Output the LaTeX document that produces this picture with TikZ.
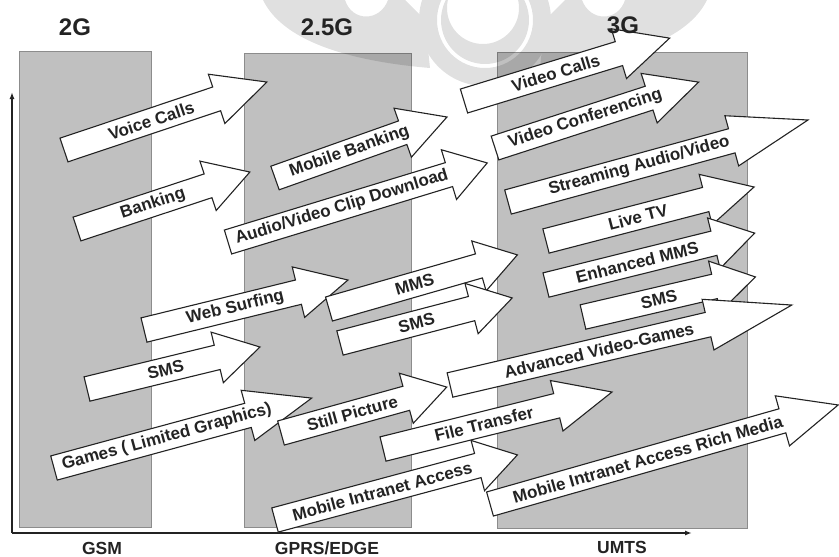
\documentclass[tikz,border=0pt]{standalone}
\usepackage{fontspec}
\setmainfont{Liberation Sans}
\usetikzlibrary{arrows.meta}
\definecolor{colfill}{RGB}{192,192,192}
\definecolor{colline}{RGB}{140,140,140}
\definecolor{ink}{RGB}{35,35,35}
\tikzset{
  column/.style={fill=colfill, draw=colline, line width=0.8pt},
  barrow/.style={fill=white, draw=ink, line width=1.1pt, line join=miter},
  atext/.style={font=\fontsize{17}{17}\selectfont\bfseries, text=ink, inner sep=0pt},
  gen/.style={font=\fontsize{24}{24}\selectfont\bfseries, text=ink, anchor=base, inner sep=0pt},
  tech/.style={font=\fontsize{17.5}{17.5}\selectfont\bfseries, text=ink, anchor=base, inner sep=0pt},
  axisline/.style={draw=ink, -{Latex[length=7pt,width=5pt]}},
  wm/.style={fill=black, draw=none}
}
\newcommand\blockarrow[8]{%
 \begin{scope}[shift={(#2,#3)}, rotate=#4]
  \draw[barrow] (0,-12.5) -- (#5-#6,-12.5) -- (#5-#6,-26) -- (#5,0) -- (#5-#6,26) -- (#5-#6,12.5) -- (0,12.5) -- cycle;
  \node[atext, rotate=#4] (#1) at (#7,0) {#8};
 \end{scope}}
\begin{document}
\begin{tikzpicture}[x=1pt,y=-1pt]
\useasboundingbox[fill=white] (0,0) rectangle (839,557);
% columns
\draw[column] (19,51) rectangle (151,527);
\draw[column] (244,53) rectangle (411,527);
\draw[column] (497,52) rectangle (747,528);
% watermark
\begin{scope}[transparency group, opacity=0.12]
\clip (0,0) rectangle (839,557);
\fill[wm] (263,0) .. controls (285,45) and (360,62) .. (430,68) -- (425,20) -- (405,0) -- (388,0) .. controls (380,22) and (352,22) .. (345,0) -- cycle;
\fill[wm] (707,0) .. controls (685,45) and (610,62) .. (540,68) -- (545,20) -- (565,0) -- (582,0) .. controls (590,22) and (618,22) .. (625,0) -- cycle;
\fill[wm, even odd rule] (485,20) circle (66) (485,20) circle (48);
\fill[wm, even odd rule] (485,20) circle (44) (483,8) circle (36);
\end{scope}
% axes
\coordinate (origin) at (12,533);
\coordinate (ytop) at (12,92);
\coordinate (xend) at (692,533);
\draw[axisline, line width=1.5pt] (origin) -- (ytop);
\draw[axisline, line width=2.5pt] (origin) -- (xend);
% arrows
\blockarrow{voice}{64}{150}{18.52}{214}{53}{92}{Voice Calls}
\blockarrow{banking}{77}{229}{18.24}{182}{44}{80}{Banking}
\blockarrow{mbanking}{275}{178}{19.53}{182.5}{47}{79}{Mobile Banking}
\blockarrow{avclip}{228}{242}{16.96}{271}{40}{119}{Audio/Video Clip Download}
\blockarrow{web}{144}{330}{13.77}{210}{51}{94}{Web Surfing}
\blockarrow{smstwo}{87}{389}{13.65}{178}{44}{81}{SMS}
\blockarrow{gamestwo}{54}{468}{15.18}{267}{66}{117}{Games ( Limited Graphics)}
\blockarrow{mms}{329}{309}{16.03}{196}{40}{89}{MMS}
\blockarrow{smstwofive}{340}{343}{14.66}{178}{42}{79}{SMS}
\blockarrow{still}{281}{433}{15.49}{172}{42}{74}{Still Picture}
\blockarrow{mia}{275}{520}{15.03}{251}{41}{111}{Mobile Intranet Access}
\blockarrow{ftransfer}{383}{449}{13.98}{236}{57}{104}{File Transfer}
\blockarrow{vcalls}{464}{101}{17.0}{215}{53}{96}{Video Calls}
\blockarrow{vconf}{495}{148}{17.93}{214}{52}{95}{Video Conferencing}
\blockarrow{stream}{508}{202}{15.29}{311}{79}{136}{Streaming Audio/Video}
\blockarrow{livetv}{546}{241}{14.55}{215}{50}{95}{Live TV}
\blockarrow{emms}{546}{285}{13.97}{215}{42}{94}{Enhanced MMS}
\blockarrow{smsthree}{583}{317}{13.09}{177}{42}{78}{SMS}
\blockarrow{advgames}{450}{385}{13.17}{351}{86}{153}{Advanced Video-Games}
\blockarrow{miarich}{490}{504}{15.88}{362}{58}{164}{Mobile Intranet Access Rich Media}
% labels
\node[gen] (g2) at (75,35) {2G};
\node[gen] (g25) at (327,35) {2.5G};
\node[gen] (g3) at (623,33) {3G};
\node[tech] (gsm) at (102,554) {GSM};
\node[tech] (gprs) at (327,554) {GPRS/EDGE};
\node[tech] (umts) at (622,553) {UMTS};
\end{tikzpicture}
\end{document}
